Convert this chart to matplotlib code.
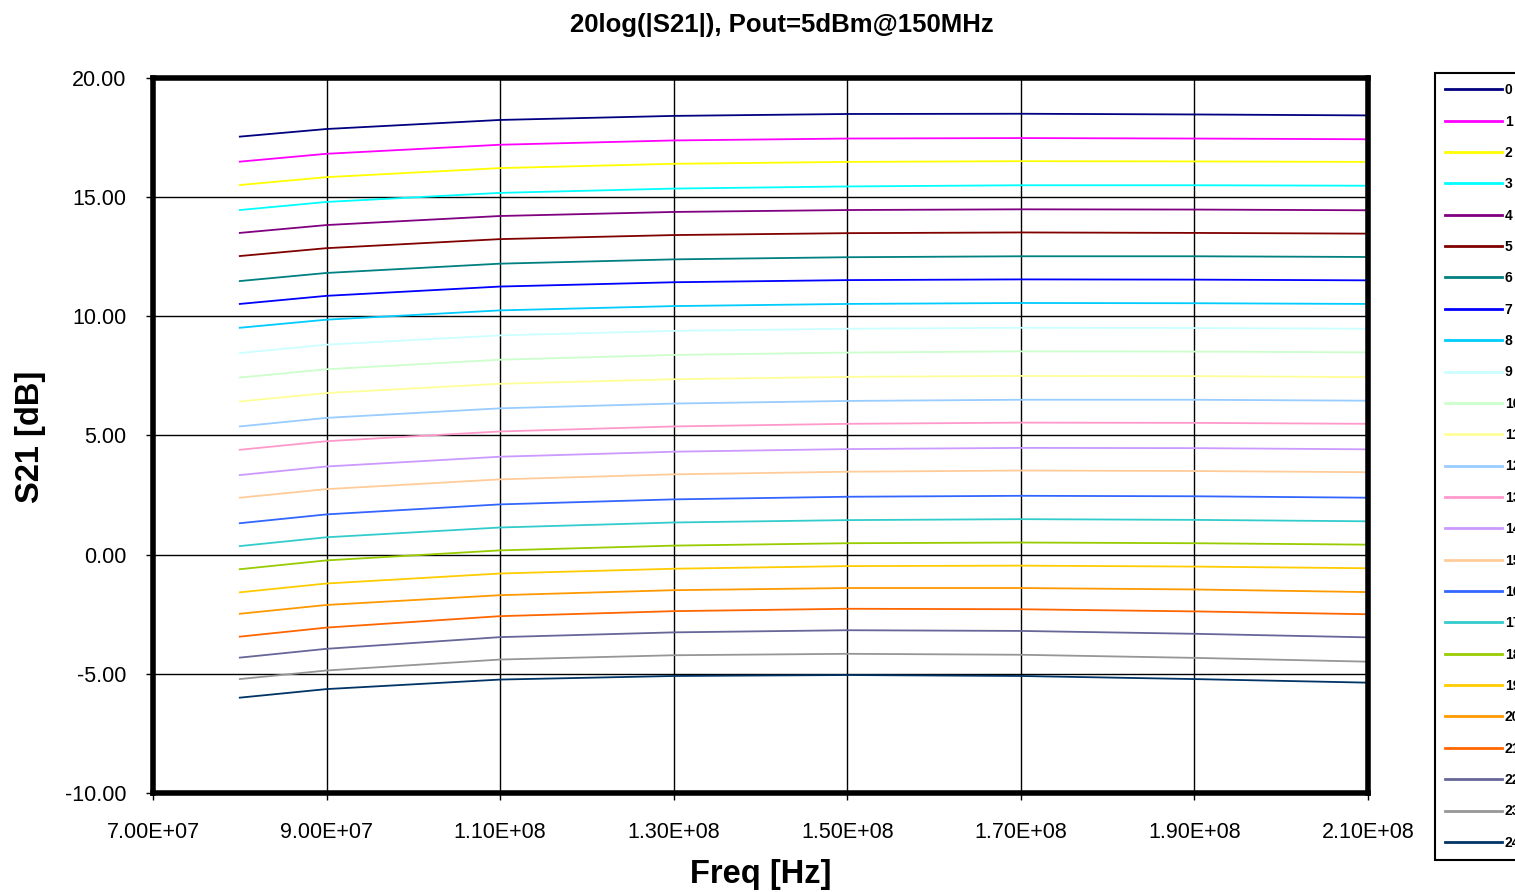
import matplotlib
matplotlib.use('Agg')
import matplotlib.pyplot as plt
from matplotlib.ticker import FormatStrFormatter, FuncFormatter

plt.rcParams['font.family'] = ['Liberation Sans', 'DejaVu Sans']

freq = [8.0e7, 9.0e7, 1.1e8, 1.3e8, 1.5e8, 1.7e8, 1.9e8, 2.1e8]

# S21 [dB] per curve at the freq points above
s21 = [
    [17.54, 17.86, 18.24, 18.41, 18.49, 18.50, 18.47, 18.43],
    [16.49, 16.82, 17.20, 17.38, 17.46, 17.48, 17.46, 17.43],
    [15.51, 15.84, 16.22, 16.40, 16.48, 16.51, 16.50, 16.48],
    [14.46, 14.80, 15.18, 15.36, 15.45, 15.50, 15.50, 15.48],
    [13.50, 13.83, 14.21, 14.38, 14.46, 14.49, 14.48, 14.45],
    [12.53, 12.86, 13.24, 13.41, 13.49, 13.52, 13.50, 13.47],
    [11.48, 11.82, 12.21, 12.39, 12.48, 12.52, 12.52, 12.49],
    [10.52, 10.86, 11.25, 11.43, 11.52, 11.55, 11.54, 11.51],
    [9.52, 9.86, 10.25, 10.43, 10.52, 10.56, 10.55, 10.52],
    [8.46, 8.81, 9.20, 9.39, 9.48, 9.52, 9.51, 9.48],
    [7.43, 7.78, 8.18, 8.38, 8.48, 8.53, 8.52, 8.49],
    [6.43, 6.78, 7.17, 7.36, 7.46, 7.50, 7.49, 7.45],
    [5.38, 5.74, 6.14, 6.34, 6.45, 6.50, 6.50, 6.46],
    [4.40, 4.76, 5.17, 5.38, 5.49, 5.54, 5.53, 5.49],
    [3.34, 3.70, 4.11, 4.32, 4.43, 4.48, 4.47, 4.42],
    [2.39, 2.75, 3.16, 3.37, 3.48, 3.53, 3.51, 3.46],
    [1.32, 1.69, 2.11, 2.32, 2.43, 2.47, 2.45, 2.39],
    [0.36, 0.73, 1.14, 1.35, 1.45, 1.49, 1.46, 1.40],
    [-0.61, -0.24, 0.18, 0.38, 0.48, 0.51, 0.48, 0.42],
    [-1.58, -1.21, -0.79, -0.59, -0.48, -0.46, -0.50, -0.57],
    [-2.48, -2.11, -1.70, -1.49, -1.40, -1.40, -1.46, -1.57],
    [-3.44, -3.06, -2.58, -2.37, -2.27, -2.29, -2.38, -2.50],
    [-4.32, -3.95, -3.46, -3.26, -3.17, -3.20, -3.32, -3.47],
    [-5.22, -4.86, -4.40, -4.22, -4.16, -4.20, -4.33, -4.49],
    [-6.00, -5.64, -5.24, -5.09, -5.05, -5.09, -5.22, -5.37],
]
labels = [str(i) for i in range(25)]

colors = ['#000080', '#FF00FF', '#FFFF00', '#00FFFF', '#800080', '#800000',
          '#008080', '#0000FF', '#00CCFF', '#CCFFFF', '#CCFFCC', '#FFFF99',
          '#99CCFF', '#FF99CC', '#CC99FF', '#FFCC99', '#3366FF', '#33CCCC',
          '#99CC00', '#FFCC00', '#FF9900', '#FF6600', '#666699', '#969696',
          '#003366']

xticks = [7.0e7, 9.0e7, 1.1e8, 1.3e8, 1.5e8, 1.7e8, 1.9e8, 2.1e8]
yticks = [-10, -5, 0, 5, 10, 15, 20]

fig = plt.figure(figsize=(15.15, 8.92), dpi=100)
ax = fig.add_axes([153/1515, 1-793/892, (1368-153)/1515, (793-78)/892])

for vals, lab, c in zip(s21, labels, colors):
    ax.plot(freq, vals, color=c, linewidth=1.3, label=lab)

ax.set_xlim(7.0e7, 2.1e8)
ax.set_ylim(-10, 20)
ax.set_xticks(xticks)
ax.set_yticks(yticks)
ax.xaxis.set_major_formatter(FuncFormatter(lambda v, p: '%.2E' % v))
ax.yaxis.set_major_formatter(FormatStrFormatter('%.2f'))
ax.grid(True, color='black', linewidth=1.0)
ax.set_axisbelow(True)
for sp in ax.spines.values():
    sp.set_linewidth(4)
ax.tick_params(axis='both', direction='out', length=5, width=1, labelsize=15.5)
ax.tick_params(axis='x', pad=16)
ax.tick_params(axis='y', pad=14)

fig.text(782/1515, 1-25/892, '20log(|S21|), Pout=5dBm@150MHz', ha='center', va='center',
         fontsize=18.5, fontweight='bold')
fig.text(0.502, 1-874/892, 'Freq [Hz]', ha='center', va='center', fontsize=23.5, fontweight='bold')
fig.text(31/1515, 1-437/892, 'S21 [dB]', ha='center', va='center', rotation=90,
         fontsize=23.5, fontweight='bold')

# legend is cut off at the right edge, as in the reference
leg = fig.legend(loc='upper left', bbox_to_anchor=(1435/1515, 1-73/892),
                 labelspacing=1.25, handlelength=4.1, handletextpad=0.2, borderpad=0.73,
                 fancybox=False, edgecolor='black', framealpha=1, borderaxespad=0,
                 prop={'weight': 'bold', 'size': 10})
leg.get_frame().set_linewidth(1.5)
for line in leg.get_lines():
    line.set_linewidth(2)

fig.savefig('out.png', dpi=100)
